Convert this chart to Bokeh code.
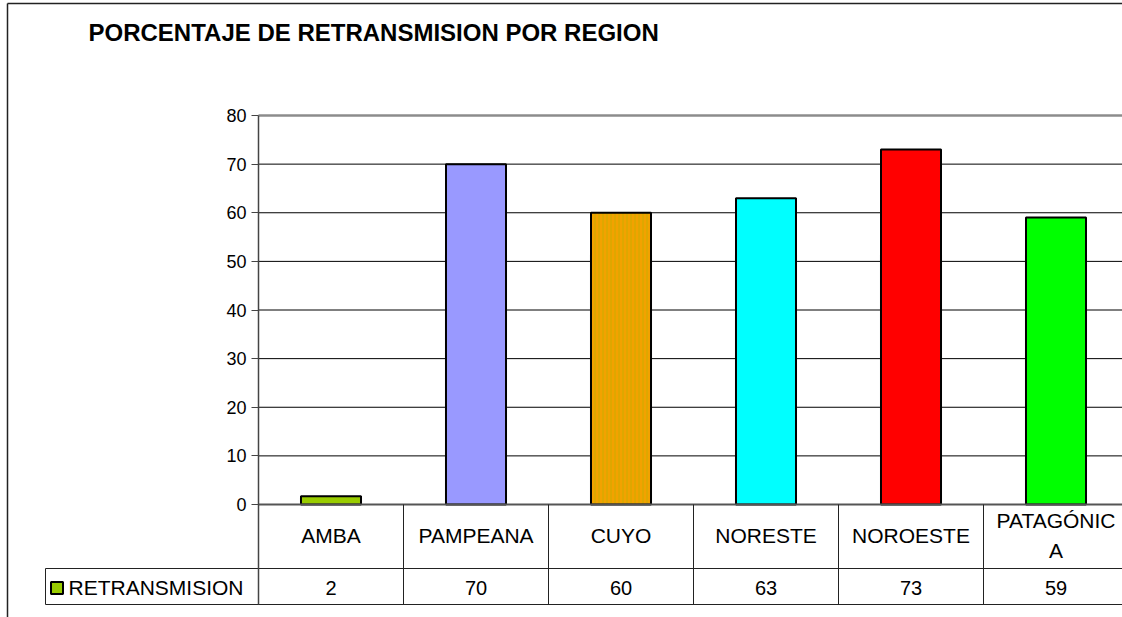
from bokeh.plotting import figure
from bokeh.models import Range1d, LinearAxis, FixedTicker, ColumnDataSource, Label
from bokeh.core.properties import value
from bokeh.embed import file_html
from bokeh.resources import INLINE

# ---- data ----
categories = ["AMBA", "PAMPEANA", "CUYO", "NORESTE", "NOROESTE", "PATAGÓNICA"]
tick_labels = ["AMBA", "PAMPEANA", "CUYO", "NORESTE", "NOROESTE", "PATAGÓNIC\nA"]
retransmision = [1.7, 70, 60, 63, 73, 59]
table_values = ["2", "70", "60", "63", "73", "59"]
series_name = "RETRANSMISION"
title_text = "PORCENTAJE DE RETRANSMISION POR REGION"
y_ticks = [0, 10, 20, 30, 40, 50, 60, 70, 80]

bar_colors = ["#99CC00", "#9999FF", "#F2A200", "#00FFFF", "#FF0000", "#00FF00"]
striped = [False, False, True, False, False, False]

# ---- layout (page pixels) ----
W, H = 1122, 617
PAGE_L, PAGE_T = 0, 0
AX_X = 258          # x of value axis
CAT_W = 145         # width of one category cell
Y0_PX, Y80_PX = 504, 115
PX_PER_UNIT = (Y0_PX - Y80_PX) / 80.0

def dx(sx):
    return (sx - AX_X) / CAT_W

def dy(sy):
    return (Y0_PX - sy) / PX_PER_UNIT

FONT = value("Liberation Sans")

p = figure(width=W, height=H, output_backend="svg", toolbar_location=None,
           x_range=Range1d(dx(PAGE_L), dx(PAGE_L + W)),
           y_range=Range1d(dy(PAGE_T + H), dy(PAGE_T)),
           x_axis_location=None, y_axis_location=None,
           min_border=0, min_border_left=0, min_border_right=0,
           min_border_top=0, min_border_bottom=0)
p.xgrid.visible = False
p.ygrid.visible = False
p.outline_line_color = None
p.background_fill_color = "white"
p.border_fill_color = "white"

n = len(categories)
xs = [i + 0.5 for i in range(n)]
x_right = dx(PAGE_L + W)
y_bottom = dy(PAGE_T + H)

# outer chart border (left and top visible)
p.segment(x0=[dx(7), dx(7)], x1=[dx(7), x_right], y0=[dy(3), dy(3)], y1=[y_bottom, dy(3)],
          line_color="#222222", line_width=1.5)

# gridlines
grid_y = [t for t in y_ticks if 0 < t < 80]
p.segment(x0=[0] * len(grid_y), x1=[x_right] * len(grid_y), y0=grid_y, y1=grid_y,
          line_color="black", line_width=1)
p.segment(x0=[0], x1=[x_right], y0=[80], y1=[80], line_color="#8c8c8c", line_width=2.5)

# bars
plain = [i for i in range(n) if not striped[i]]
hatched = [i for i in range(n) if striped[i]]
src = ColumnDataSource(dict(x=[xs[i] for i in plain], top=[retransmision[i] for i in plain],
                            color=[bar_colors[i] for i in plain]))
p.vbar(x="x", top="top", bottom=0, width=0.414, source=src,
       fill_color="color", line_color="black", line_width=2)
src2 = ColumnDataSource(dict(x=[xs[i] for i in hatched], top=[retransmision[i] for i in hatched],
                             color=[bar_colors[i] for i in hatched]))
p.vbar(x="x", top="top", bottom=0, width=0.414, source=src2,
       fill_color="color", line_color="black", line_width=2,
       hatch_pattern="vertical_line", hatch_color="#B9B000", hatch_scale=4,
       hatch_weight=1, hatch_alpha=0.7)

# data table lines
p.segment(x0=[0], x1=[x_right], y0=[0], y1=[0], line_color="#555555", line_width=2)
row_y = [dy(568), dy(604)]
p.segment(x0=[dx(45)] * 2, x1=[x_right] * 2, y0=row_y, y1=row_y,
          line_color="#222222", line_width=1)
vx = list(range(1, n))
p.segment(x0=vx, x1=vx, y0=[0] * len(vx), y1=[dy(604)] * len(vx),
          line_color="#222222", line_width=1)
p.segment(x0=[dx(45)], x1=[dx(45)], y0=[dy(568)], y1=[dy(604)],
          line_color="#222222", line_width=1)

# value axis
yaxis = LinearAxis(fixed_location=0, ticker=FixedTicker(ticks=y_ticks),
                   bounds=(dy(604), 80))
yaxis.axis_line_color = "#444444"
yaxis.axis_line_width = 1.5
yaxis.major_tick_line_color = "#444444"
yaxis.major_tick_out = 7
yaxis.major_tick_in = 0
yaxis.minor_tick_line_color = None
yaxis.major_label_text_font = "Liberation Sans"
yaxis.major_label_text_font_size = "18px"
yaxis.major_label_text_color = "black"
yaxis.major_label_standoff = 5
p.add_layout(yaxis, "left")

# category labels (table header row)
p.text(x=xs, y=[dy(535)] * n, text=tick_labels, text_font=FONT,
       text_font_size=value("21px"), text_align="center", text_baseline="middle",
       text_line_height=1.3, text_color="black")
# values row
p.text(x=xs, y=[dy(587)] * n, text=table_values, text_font=FONT,
       text_font_size=value("20px"), text_align="center", text_baseline="middle",
       text_color="black")

# legend key + series name
p.scatter(x=[dx(56.5)], y=[dy(587.5)], marker="square", size=12,
          fill_color=bar_colors[0], line_color="black", line_width=2)
p.text(x=[dx(68)], y=[dy(587)], text=[series_name], text_font=FONT,
       text_font_size=value("21px"), text_align="left", text_baseline="middle",
       text_color="black")

# title
p.add_layout(Label(x=dx(88), y=dy(32), text=title_text, text_font="Liberation Sans",
                   text_font_size="24px", text_font_style="bold",
                   text_baseline="middle", text_align="left", text_color="black"))

open("out.html", "w").write(file_html(p, INLINE))
